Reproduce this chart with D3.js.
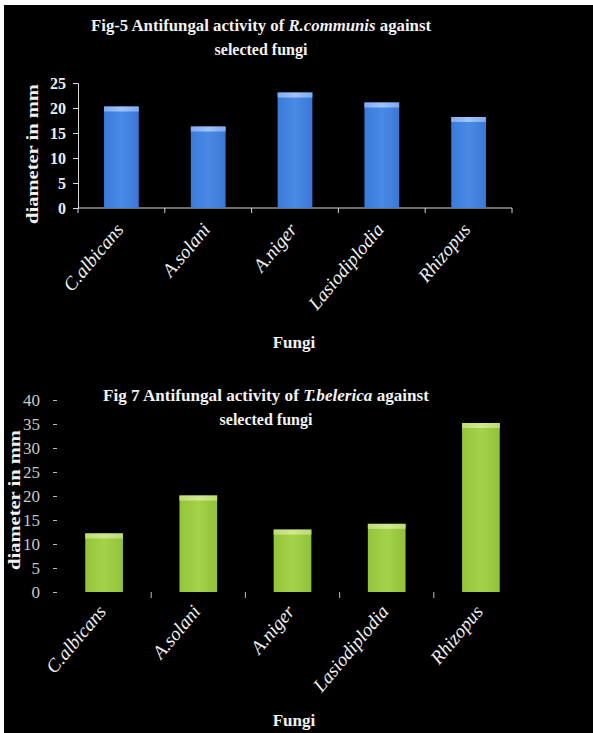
<!DOCTYPE html>
<html>
<head>
<meta charset="utf-8">
<script src="https://cdn.jsdelivr.net/npm/d3@7"></script>
<style>
  html, body { margin: 0; padding: 0; background: #fff; }
  svg { display: block; }
  text { font-family: "Liberation Serif", "Times New Roman", serif; }
</style>
</head>
<body>
<svg id="chart" width="593" height="733"></svg>
<script>
// ---- data ----
const fungi = ["C.albicans", "A.solani", "A.niger", "Lasiodiplodia", "Rhizopus"];
const valuesFig5 = [20.3, 16.3, 23.1, 21.1, 18.2];   // R.communis
const valuesFig7 = [12.2, 20.1, 13.0, 14.2, 35.2];   // T.belerica
const ticksFig5 = [0, 5, 10, 15, 20, 25];
const ticksFig7 = [0, 5, 10, 15, 20, 25, 30, 35, 40];
const yLabel = "diameter in mm";
const xLabel = "Fungi";

const svg = d3.select("#chart");
svg.append("rect").attr("x", 4).attr("y", 5).attr("width", 589).attr("height", 728).attr("fill", "#000");

const defs = svg.append("defs");
function barGrad(id, c0, c1, c2) {
  const g = defs.append("linearGradient").attr("id", id).attr("x1", 0).attr("x2", 1).attr("y1", 0).attr("y2", 0);
  g.append("stop").attr("offset", "0%").attr("stop-color", c0);
  g.append("stop").attr("offset", "50%").attr("stop-color", c1);
  g.append("stop").attr("offset", "100%").attr("stop-color", c2);
}
barGrad("blueBody", "#3a7ada", "#4a8ae6", "#3a78d6");
barGrad("blueRim", "#80acf2", "#a0c4f8", "#7eaaf0");
barGrad("greenBody", "#94c43a", "#a4d248", "#92c23a");
barGrad("greenRim", "#bedd74", "#d0e890", "#bcdc72");

function title(g, cx, y, w1, pre, ital, post, line2) {
  const t = g.append("text").attr("x", cx).attr("y", y).attr("text-anchor", "middle")
    .attr("fill", "#f2f2f2").attr("font-size", 16).attr("font-weight", "bold")
    .attr("textLength", w1).attr("lengthAdjust", "spacingAndGlyphs");
  t.append("tspan").text(pre);
  t.append("tspan").attr("font-style", "italic").text(ital);
  t.append("tspan").text(post);
  g.append("text").attr("x", cx).attr("y", y + 24).attr("text-anchor", "middle")
    .attr("fill", "#f2f2f2").attr("font-size", 16).attr("font-weight", "bold").text(line2);
}

// ================= Fig-5 =================
{
  const g = svg.append("g");
  const x = d3.scaleBand().domain(fungi).range([78, 512]).paddingInner(0.6).paddingOuter(0.3);
  const y = d3.scaleLinear().domain([0, 25]).range([208, 83]);

  title(g, 261, 31, 340, "Fig-5 Antifungal activity  of ", "R.communis", " against", "selected fungi");

  const yAxis = g.append("g").attr("transform", `translate(${x.range()[0]},0)`)
    .call(d3.axisLeft(y).tickValues(ticksFig5).tickSize(5).tickPadding(7));
  yAxis.selectAll("path, line").attr("stroke", "#d8d8d8");
  yAxis.selectAll("text").attr("fill", "#eeeeee").attr("font-size", 16).attr("font-weight", "bold")
    .style("font-family", "Liberation Serif");

  const step = x.step();
  const r = x.range();
  g.append("line").attr("x1", r[0]).attr("x2", r[1]).attr("y1", y(0)).attr("y2", y(0)).attr("stroke", "#d8d8d8");
  d3.range(fungi.length + 1).forEach(i => {
    g.append("line").attr("x1", r[0] + i * step).attr("x2", r[0] + i * step)
      .attr("y1", y(0)).attr("y2", y(0) + 5).attr("stroke", "#d8d8d8");
  });

  const bars = g.selectAll(".b5").data(fungi).join("g");
  bars.append("rect").attr("x", d => x(d)).attr("width", x.bandwidth())
    .attr("y", (d, i) => y(valuesFig5[i])).attr("height", (d, i) => y(0) - y(valuesFig5[i]))
    .attr("fill", "url(#blueBody)");
  bars.append("rect").attr("x", d => x(d)).attr("width", x.bandwidth())
    .attr("y", (d, i) => y(valuesFig5[i])).attr("height", 5)
    .attr("fill", "url(#blueRim)");

  g.selectAll(".xl5").data(fungi).join("text")
    .attr("transform", d => `translate(${x(d) + x.bandwidth() / 2 + 3},230) rotate(-50)`)
    .attr("text-anchor", "end").attr("fill", "#f0f0f0").attr("font-size", 19)
    .attr("font-style", "italic").text(d => d);

  g.append("text").attr("transform", "translate(38,154) rotate(-90)").attr("text-anchor", "middle")
    .attr("fill", "#f0f0f0").attr("font-size", 17).attr("font-weight", "bold")
    .attr("textLength", 140).attr("lengthAdjust", "spacingAndGlyphs").text(yLabel);

  g.append("text").attr("x", 294).attr("y", 348).attr("text-anchor", "middle")
    .attr("fill", "#f0f0f0").attr("font-size", 17).attr("font-weight", "bold").text(xLabel);
}

// ================= Fig 7 =================
{
  const g = svg.append("g");
  const x = d3.scaleBand().domain(fungi).range([57, 528]).paddingInner(0.6).paddingOuter(0.3);
  const y = d3.scaleLinear().domain([0, 40]).range([592, 400]);

  title(g, 266, 401, 326, "Fig 7 Antifungal activity  of ", "T.belerica", " against", "selected fungi");

  const yAxis = g.append("g").attr("transform", `translate(${x.range()[0]},0)`)
    .call(d3.axisLeft(y).tickValues(ticksFig7).tickSize(5).tickPadding(12));
  yAxis.select("path").remove();
  yAxis.selectAll("line").attr("stroke", "#bbbbbb").attr("x1", -4).attr("x2", 0);
  yAxis.selectAll("text").attr("fill", "#c8c8c8").attr("font-size", 17)
    .style("font-family", "Liberation Serif");

  const step = x.step();
  const r = x.range();
  d3.range(1, fungi.length).forEach(i => {
    g.append("line").attr("x1", r[0] + i * step).attr("x2", r[0] + i * step)
      .attr("y1", y(0)).attr("y2", y(0) + 6).attr("stroke", "#bbbbbb");
  });

  const bars = g.selectAll(".b7").data(fungi).join("g");
  bars.append("rect").attr("x", d => x(d)).attr("width", x.bandwidth())
    .attr("y", (d, i) => y(valuesFig7[i])).attr("height", (d, i) => y(0) - y(valuesFig7[i]))
    .attr("fill", "url(#greenBody)");
  bars.append("rect").attr("x", d => x(d)).attr("width", x.bandwidth())
    .attr("y", (d, i) => y(valuesFig7[i])).attr("height", 5)
    .attr("fill", "url(#greenRim)");

  g.selectAll(".xl7").data(fungi).join("text")
    .attr("transform", d => `translate(${x(d) + x.bandwidth() / 2 + 3},612) rotate(-50)`)
    .attr("text-anchor", "end").attr("fill", "#f0f0f0").attr("font-size", 19)
    .attr("font-style", "italic").text(d => d);

  g.append("text").attr("transform", "translate(20,500) rotate(-90)").attr("text-anchor", "middle")
    .attr("fill", "#f0f0f0").attr("font-size", 17).attr("font-weight", "bold")
    .attr("textLength", 140).attr("lengthAdjust", "spacingAndGlyphs").text(yLabel);

  g.append("text").attr("x", 294).attr("y", 726).attr("text-anchor", "middle")
    .attr("fill", "#f0f0f0").attr("font-size", 17).attr("font-weight", "bold").text(xLabel);
}
</script>
</body>
</html>
